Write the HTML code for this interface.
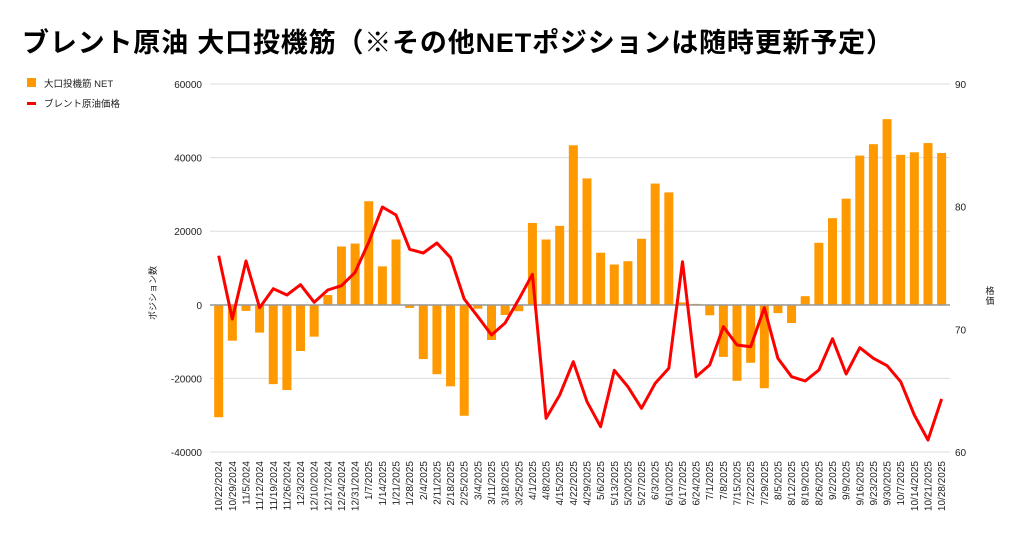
<!DOCTYPE html>
<html><head><meta charset="utf-8"><style>
body{margin:0;background:#fff;}
svg{display:block;font-family:"Liberation Sans","Noto Sans CJK JP",sans-serif;}
</style></head><body>
<svg id="c" width="1024" height="535" xmlns="http://www.w3.org/2000/svg">
<text x="22" y="52" font-size="27" font-weight="bold" fill="#000" textLength="871" lengthAdjust="spacing">ブレント原油 大口投機筋（※その他NETポジションは随時更新予定）</text>
<rect x="27" y="78" width="9" height="9" fill="#ff9900"/>
<text x="44" y="87" font-size="9.5" fill="#222">大口投機筋  NET</text>
<rect x="27" y="102" width="9" height="3" fill="#ff0000"/>
<text x="44" y="107" font-size="9.5" fill="#222">ブレント原油価格</text>
<g id="grid"></g>
<g id="bars"></g>
<line x1="210" y1="305" x2="950" y2="305" stroke="#999" stroke-width="1.5"/>
<polyline id="line" fill="none" stroke="#ff0000" stroke-width="3" stroke-linejoin="round"/>
<g id="xl" font-size="10" fill="#222"></g>
<text transform="translate(156,293) rotate(-90)" font-size="9" text-anchor="middle" fill="#222">ポジション数</text>
<text x="990" y="294" font-size="9" text-anchor="middle" fill="#222">格</text>
<text x="990" y="304" font-size="9" text-anchor="middle" fill="#222">価</text>
</svg>
<script>
var ns="http://www.w3.org/2000/svg";
function el(t,a,p,txt){var e=document.createElementNS(ns,t);for(var k in a)e.setAttribute(k,a[k]);if(txt!==undefined)e.textContent=txt;document.getElementById(p).appendChild(e);return e;}
var L=[60000,40000,20000,0,-20000,-40000],R=[90,80,70,60];
for(var i=0;i<6;i++){var y=84+i*73.6;el('line',{x1:210,y1:y,x2:950,y2:y,stroke:'#ddd','stroke-width':1},'grid');
el('text',{x:202,y:y+4,'font-size':10,'text-anchor':'end',fill:'#222'},'grid',L[i]);}
for(var i=0;i<4;i++){var y=84+i*122.67;el('text',{x:955,y:y+4,'font-size':10,fill:'#222'},'grid',R[i]);}
var v=[-30500,-9700,-1600,-7500,-21500,-23100,-12500,-8600,2700,15900,16700,28200,10500,17800,-800,-14700,-18800,-22100,-30100,-1000,-9500,-2700,-1700,22300,17800,21500,43400,34400,14200,11000,11900,18000,33000,30600,700,300,-2800,-14100,-20600,-15700,-22600,-2200,-4900,2400,16900,23600,28900,40600,43700,50500,40800,41500,44000,41300];
var p=[255.7,319,261,307.7,288.7,295,284.7,302.3,290,285.7,272.3,242.3,207,215,249.3,253,243,257.7,299,316.7,335,323,299.3,274.3,418.3,395,361.7,401.7,426.7,370.3,386.7,408.3,383.3,368.3,261.7,376.7,365,326.7,345,346.7,307.7,358.3,376.7,381,370,338.7,374,347.7,358.3,365.7,381.7,415,440,399];
var d=['10/22/2024','10/29/2024','11/5/2024','11/12/2024','11/19/2024','11/26/2024','12/3/2024','12/10/2024','12/17/2024','12/24/2024','12/31/2024','1/7/2025','1/14/2025','1/21/2025','1/28/2025','2/4/2025','2/11/2025','2/18/2025','2/25/2025','3/4/2025','3/11/2025','3/18/2025','3/25/2025','4/1/2025','4/8/2025','4/15/2025','4/22/2025','4/29/2025','5/6/2025','5/13/2025','5/20/2025','5/27/2025','6/3/2025','6/10/2025','6/17/2025','6/24/2025','7/1/2025','7/8/2025','7/15/2025','7/22/2025','7/29/2025','8/5/2025','8/12/2025','8/19/2025','8/26/2025','9/2/2025','9/9/2025','9/16/2025','9/23/2025','9/30/2025','10/7/2025','10/14/2025','10/21/2025','10/28/2025'];
var pts=[];
for(var i=0;i<54;i++){var x=218.7+i*13.64;var h=v[i]/20000*73.6;
el('rect',{x:x-4.5,y:h>0?305-h:305,width:9,height:Math.abs(h),fill:'#ff9900'},'bars');
pts.push(x.toFixed(1)+','+p[i]);
el('text',{transform:'translate('+(x+3.5)+',461) rotate(-90)','text-anchor':'end'},'xl',d[i]);}
document.getElementById('line').setAttribute('points',pts.join(' '));
</script>
</body></html>
